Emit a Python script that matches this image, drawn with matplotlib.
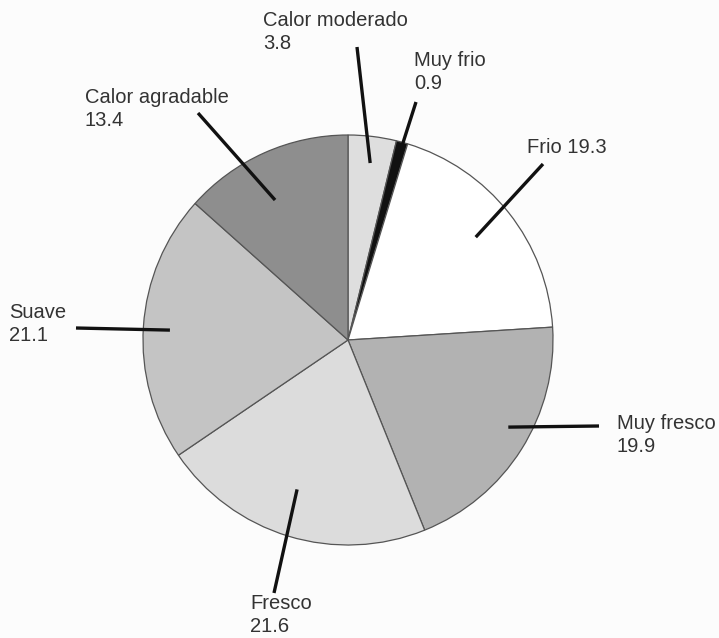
import numpy as np
from matplotlib import pyplot as plt

# Data (percent), clockwise from the top
categories = ["Calor moderado", "Muy frio", "Frio", "Muy fresco", "Fresco", "Suave", "Calor agradable"]
values = [3.8, 0.9, 19.3, 19.9, 21.6, 21.1, 13.4]
labels = ["Calor moderado\n3.8", "Muy frio\n0.9", "Frio 19.3", "Muy fresco\n19.9",
          "Fresco\n21.6", "Suave\n21.1", "Calor agradable\n13.4"]
colors = ["#dedede", "#111111", "#ffffff", "#b2b2b2", "#dcdcdc", "#c4c4c4", "#8e8e8e"]

W, H = 719, 638

# layout in image pixels (x, y from top)
center = (348, 340)
radius = 205
text_pos = [(263, 11), (414, 51), (527, 138), (617, 414), (250, 594), (9, 303), (85, 88)]
line_out = [(357, 47), (416, 102), (543, 164), (599, 426), (274, 593), (76, 328), (198, 113)]
inner_frac = [0.87, 0.88, 0.80, 0.89, 0.77, 0.87, 0.77]
angle_shift = [-0.3, 0.0, 0.5, 3.7, -1.9, 0.6, 3.4]

fig = plt.figure(figsize=(W / 100, H / 100), dpi=100)
fig.patch.set_facecolor("#fcfcfc")
ax = fig.add_axes([0, 0, 1, 1])

wedges, _ = ax.pie(values, colors=colors, startangle=90, counterclock=False,
                   center=(center[0], H - center[1]), radius=radius,
                   wedgeprops=dict(edgecolor="#555555", linewidth=0.9))
ax.set_xlim(0, W)
ax.set_ylim(0, H)
ax.set_aspect("equal")
ax.axis("off")

for w, lab, tp, lo, f, da in zip(wedges, labels, text_pos, line_out, inner_frac, angle_shift):
    mid = np.deg2rad((w.theta1 + w.theta2) / 2 + da)
    xi = center[0] + f * radius * np.cos(mid)
    yi = (H - center[1]) + f * radius * np.sin(mid)
    ax.plot([lo[0], xi], [H - lo[1], yi], color="#111111", lw=2.4, solid_capstyle="butt", zorder=5)
    ax.text(tp[0], H - tp[1], lab, fontsize=14.5, family="Liberation Sans", color="#333333",
            ha="left", va="top", linespacing=1.25)

fig.savefig("out.png", dpi=100, facecolor=fig.get_facecolor())
